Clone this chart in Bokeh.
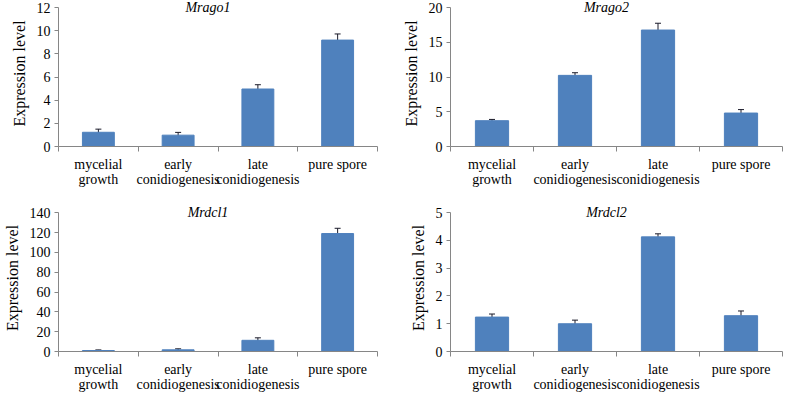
from bokeh.plotting import figure
from bokeh.layouts import gridplot
from bokeh.models import (ColumnDataSource, Range1d, FixedTicker, Whisker, TeeHead, Label)
from bokeh.embed import file_html
from bokeh.resources import INLINE

# ---- data ----
categories = ["mycelial\ngrowth", "early\nconidiogenesis", "late\nconidiogenesis", "pure spore"]

genes = ["Mrago1", "Mrago2", "Mrdcl1", "Mrdcl2"]

mrago1_vals = [1.23, 0.98, 4.97, 9.2]
mrago1_err = [0.27, 0.24, 0.37, 0.53]

mrago2_vals = [3.72, 10.25, 16.78, 4.82]
mrago2_err = [0.18, 0.38, 0.98, 0.5]

mrdcl1_vals = [1.0, 1.7, 11.3, 119.0]
mrdcl1_err = [0.6, 1.0, 2.5, 5.3]

mrdcl2_vals = [1.24, 1.0, 4.13, 1.29]
mrdcl2_err = [0.11, 0.13, 0.11, 0.17]

y_max = [12, 20, 140, 5]
y_step = [2, 5, 20, 1]

FONT = "Liberation Serif"
BAR = "#4F81BD"
AXIS = "#868686"
ERR = "#1b1b2a"

# layout (pixels)
AXIS_H = 48  # estimated height of the x axis panel
sizes = [
    dict(height=190, min_border_left=49, min_border_right=15, min_border_top=0, min_border_bottom=0),
    dict(height=190, min_border_left=52, min_border_right=2, min_border_top=0, min_border_bottom=0),
    dict(height=205, min_border_left=49, min_border_right=15, min_border_top=14, min_border_bottom=0),
    dict(height=205, min_border_left=58, min_border_right=2, min_border_top=14, min_border_bottom=0),
]
top_pad = [7, 7, 8, 8]  # space between top tick and top of frame (room for the title)

series = [(mrago1_vals, mrago1_err), (mrago2_vals, mrago2_err),
          (mrdcl1_vals, mrdcl1_err), (mrdcl2_vals, mrdcl2_err)]


def make_panel(i):
    vals, errs = series[i]
    n = len(categories)
    xs = [k + 1 for k in range(n)]
    src = ColumnDataSource(dict(
        x=xs, top=vals,
        upper=[v + e for v, e in zip(vals, errs)],
        lower=[v - e for v, e in zip(vals, errs)],
    ))
    s = sizes[i]
    frame_h = s["height"] - s["min_border_top"] - AXIS_H
    y_end = y_max[i] * frame_h / (frame_h - top_pad[i])
    p = figure(width=392, output_backend="svg", toolbar_location=None,
               x_range=Range1d(0.5, n + 0.5), y_range=Range1d(0, y_end),
               **s)
    p.outline_line_color = None
    p.xgrid.visible = False
    p.ygrid.visible = False
    p.background_fill_color = "white"
    p.border_fill_color = "white"

    p.vbar(x="x", top="top", width=0.4, source=src,
           fill_color=BAR, line_color=BAR)
    w = Whisker(source=src, base="x", upper="upper", lower="lower",
                line_color=ERR, line_width=1,
                upper_head=TeeHead(size=6, line_color=ERR, line_width=1),
                lower_head=TeeHead(size=6, line_color=ERR, line_width=1))
    p.add_layout(w)

    # x axis: labels at category centres, tick marks at boundaries
    xa = p.xaxis[0]
    xa.ticker = FixedTicker(ticks=xs, minor_ticks=[k + 0.5 for k in range(n + 1)])
    xa.major_label_overrides = {x: c for x, c in zip(xs, categories)}
    xa.major_tick_out = 0
    xa.major_tick_in = 0
    xa.minor_tick_out = 5
    xa.minor_tick_in = 0
    xa.minor_tick_line_color = AXIS
    xa.axis_line_color = AXIS
    xa.major_label_text_font = FONT
    xa.major_label_text_font_size = "14px"
    xa.major_label_text_line_height = 1.05
    xa.major_label_text_color = "black"
    xa.major_label_standoff = 5
    xa.axis_label_standoff = 0

    ya = p.yaxis[0]
    ya.ticker = FixedTicker(ticks=list(range(0, y_max[i] + 1, y_step[i])), minor_ticks=[])
    ya.bounds = (0, y_max[i])
    ya.axis_line_color = AXIS
    ya.major_tick_line_color = AXIS
    ya.major_tick_out = 4
    ya.major_tick_in = 0
    ya.minor_tick_out = 0
    ya.minor_tick_in = 0
    ya.major_label_text_font = FONT
    ya.major_label_text_font_size = "14px"
    ya.major_label_text_color = "black"
    ya.major_label_standoff = 4
    ya.axis_label = "Expression level"
    ya.axis_label_text_font = FONT
    ya.axis_label_text_font_size = "16px"
    ya.axis_label_text_font_style = "normal"
    ya.axis_label_text_color = "black"
    ya.axis_label_standoff = 6

    title = Label(x=(0.5 + n + 0.5) / 2, y=y_max[i], text=genes[i],
                  text_font=FONT, text_font_size="14px", text_font_style="italic",
                  text_align="center", text_baseline="middle", x_offset=-10,
                  text_color="black")
    p.add_layout(title)
    return p


panels = [make_panel(i) for i in range(4)]
grid = gridplot([[panels[0], panels[1]], [panels[2], panels[3]]], toolbar_location=None)

open("out.html", "w").write(file_html(grid, INLINE))
